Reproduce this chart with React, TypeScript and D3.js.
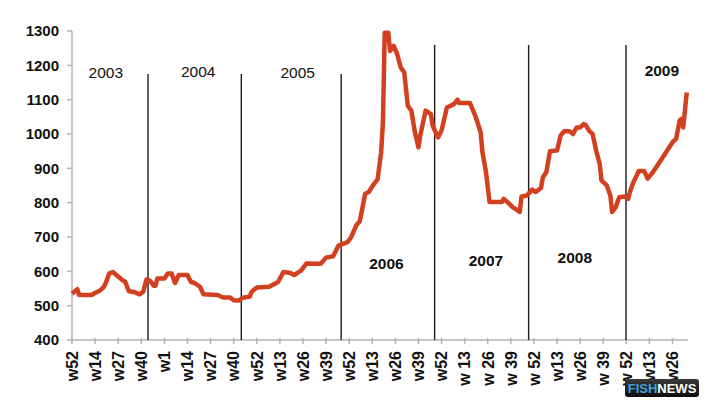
import * as d3 from "d3";

// weekly index since first tick (w52 2002), price
const series: [number, number][] = [
  [0, 535], [3, 548], [4, 531], [11, 531], [13, 537], [16, 545], [18, 555], [19, 566],
  [21, 594], [23, 598], [25, 589], [28, 576], [30, 569], [32, 542], [35, 540], [38, 533],
  [40, 540], [42, 577], [44, 572], [46, 558], [47, 558], [48, 579], [52, 579], [54, 594],
  [56, 594], [58, 566], [60, 589], [65, 589], [67, 569], [69, 566], [72, 555], [74, 533],
  [82, 531], [85, 524], [89, 524], [91, 516], [94, 515], [96, 523], [100, 526], [101, 540],
  [104, 553], [111, 555], [116, 569], [119, 598], [123, 595], [125, 589], [129, 603],
  [132, 623], [140, 622], [143, 640], [147, 644], [150, 675], [155, 685], [157, 698],
  [160, 734], [162, 746], [165, 826], [167, 831], [170, 855], [172, 868], [174, 947],
  [175, 1034], [176, 1295], [178, 1295], [179, 1242], [181, 1257], [183, 1233], [185, 1194],
  [187, 1179], [189, 1082], [191, 1068], [193, 1005], [195, 961], [196, 995], [199, 1068],
  [202, 1058], [203, 1024], [206, 990], [208, 1010], [211, 1077], [215, 1087], [217, 1100],
  [218, 1090], [224, 1090], [227, 1053], [230, 1005], [231, 947], [233, 889], [235, 802],
  [242, 802], [243, 811], [245, 802], [248, 787], [252, 773], [253, 818], [256, 821],
  [259, 838], [261, 831], [264, 843], [265, 874], [267, 889], [269, 950], [273, 952],
  [275, 995], [277, 1008], [280, 1008], [282, 1000], [284, 1019], [286, 1019], [288, 1029],
  [289, 1027], [291, 1010], [293, 1000], [295, 952], [297, 913], [298, 865], [301, 850],
  [303, 821], [304, 773], [306, 787], [308, 816], [311, 818], [313, 811], [314, 831],
  [316, 860], [317, 870], [319, 892], [322, 892], [324, 870], [327, 889], [332, 928],
  [335, 952], [338, 976], [340, 986], [342, 1039], [343, 1044], [344, 1019], [346, 1121],
];

const weekLabels = [
  "w52", "w14", "w27", "w40", "w1", "w14", "w27", "w40", "w52", "w13", "w26", "w39", "w52",
  "w13", "w26", "w39", "w52", "w 13", "w 26", "w 39", "w 52", "w13", "w26", "w 39", "w 52",
  "w13", "w26",
];

const yTicks = [400, 500, 600, 700, 800, 900, 1000, 1100, 1200, 1300];

// where each new year starts (week index)
const yearBreaks = [42.8, 95.3, 151.5, 204.1, 257, 311.8];

const years = [
  { label: "2003", week: 19, value: 1163, bold: false },
  { label: "2004", week: 71, value: 1166, bold: false },
  { label: "2005", week: 127, value: 1163, bold: false },
  { label: "2006", week: 177, value: 608, bold: true },
  { label: "2007", week: 233, value: 616, bold: true },
  { label: "2008", week: 283, value: 625, bold: true },
  { label: "2009", week: 332, value: 1168, bold: true },
];

const W = 709;
const H = 408;
const font = "'Liberation Sans', Arial, sans-serif";

export default function App() {
  const x = d3.scaleLinear().domain([0, 346.7]).range([72, 688]);
  const y = d3.scaleLinear().domain([400, 1300]).range([340, 31]);

  const line = d3
    .line<[number, number]>()
    .x(d => x(d[0]))
    .y(d => y(d[1]))
    .curve(d3.curveLinear);

  const axisColor = "#b5b5b5";

  return (
    <svg
      width={W}
      height={H}
      style={{ position: "absolute", left: 0, top: 0, background: "#fff", fontFamily: font }}
    >
      {/* y axis */}
      <line x1={x(0)} x2={x(0)} y1={y(1300)} y2={y(400)} stroke={axisColor} strokeWidth={1.5} />
      {yTicks.map(t => (
        <g key={t}>
          <line x1={x(0) - 5} x2={x(0)} y1={y(t)} y2={y(t)} stroke={axisColor} strokeWidth={1.5} />
          <text
            x={59}
            y={y(t)}
            dy="0.36em"
            textAnchor="end"
            fontSize={15}
            fontWeight={700}
            fill="#111"
          >
            {t}
          </text>
        </g>
      ))}

      {/* x axis */}
      <line x1={x(0)} x2={x(346.7)} y1={y(400)} y2={y(400)} stroke={axisColor} strokeWidth={1.5} />
      {weekLabels.map((lab, i) => {
        const xx = x(i * 13);
        return (
          <g key={i}>
            <line x1={xx} x2={xx} y1={y(400) - 2} y2={y(400) + 4} stroke={axisColor} strokeWidth={1.5} />
            <text
              transform={`translate(${xx},${y(400) + 11}) rotate(-90)`}
              dy="0.36em"
              textAnchor="end"
              fontSize={16}
              fontWeight={700}
              fill="#111"
            >
              {lab}
            </text>
          </g>
        );
      })}

      {/* year separators */}
      {yearBreaks.map((b, i) => (
        <line
          key={i}
          x1={x(b)}
          x2={x(b)}
          y1={i < 3 ? 74 : 45}
          y2={y(400)}
          stroke="#1a1a1a"
          strokeWidth={1.4}
        />
      ))}

      {/* price line */}
      <path d={line(series) ?? ""} fill="none" stroke="#d3401f" strokeWidth={4.5} strokeLinejoin="round" />

      {/* year labels */}
      {years.map(yr => (
        <text
          key={yr.label}
          x={x(yr.week)}
          y={y(yr.value)}
          textAnchor="middle"
          fontSize={15.5}
          fontWeight={yr.bold ? 700 : 400}
          fill="#111"
        >
          {yr.label}
        </text>
      ))}

      {/* logo */}
      <defs>
        <linearGradient id="logoBg" x1="0" x2="0" y1="0" y2="1">
          <stop offset="0" stopColor="#3a3a3a" />
          <stop offset="1" stopColor="#0c0c0c" />
        </linearGradient>
      </defs>
      <rect x={625} y={379} width={74} height={18} rx={3} fill="url(#logoBg)" />
      <text x={662} y={393} textAnchor="middle" fontSize={13} fontWeight={700}>
        <tspan fill="#3ba3d6">FISH</tspan>
        <tspan fill="#fff">NEWS</tspan>
      </text>
    </svg>
  );
}
